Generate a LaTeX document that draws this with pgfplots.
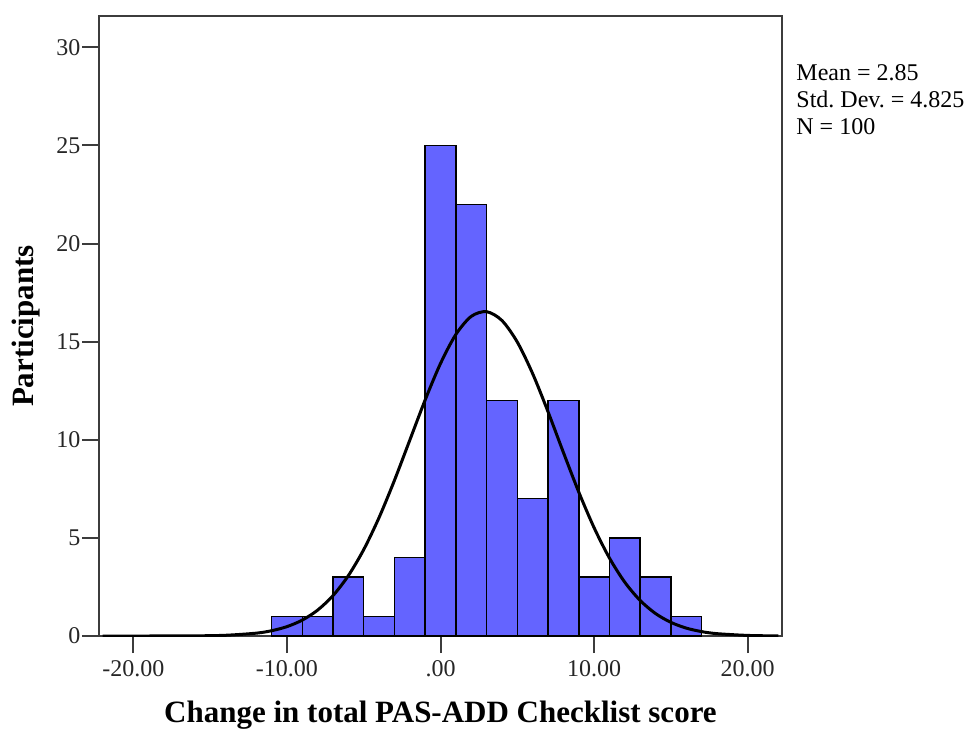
\documentclass[border=0pt]{standalone}
\usepackage{fontspec}
\setmainfont{Liberation Serif}
\usepackage{pgfplots}
\pgfplotsset{compat=1.18}
\definecolor{barblue}{RGB}{100,100,255}
\definecolor{frame}{RGB}{60,60,60}
\begin{document}
\frenchspacing
\begin{tikzpicture}
% fixed page: 977x730 px at 0.5pt per px, origin at axis south west
\useasboundingbox (-49.75pt,-47pt) rectangle (438.75pt,318pt);
\begin{axis}[
  scale only axis, width=341pt, height=310pt,
  xmin=-22.2, xmax=22.2, ymin=0, ymax=31.6,
  axis line style={frame, line width=1pt},
  tick style={frame, line width=1pt},
  major tick length=8.5pt, tick align=outside,
  xtick={-20,-10,0,10,20},
  xticklabels={-20.00,-10.00,.00,10.00,20.00},
  ytick={0,5,10,15,20,25,30},
  xtick pos=bottom, ytick pos=left,
  /pgf/number format/assume math mode=true,
  tick label style={font=\fontsize{12}{14}\selectfont, text=black!85},
  yticklabel style={xshift=2.5pt},
  xlabel={Change in total PAS-ADD Checklist score},
  ylabel={Participants},
  every axis x label/.style={at={(rel axis cs:0.5,0)}, yshift=-39.5pt, anchor=center,
    font=\fontsize{15.5}{18}\selectfont\bfseries},
  every axis y label/.style={at={(rel axis cs:0,0.5)}, xshift=-36.5pt, anchor=center, rotate=90,
    font=\fontsize{15.5}{18}\selectfont\bfseries},
]
\addplot[ybar interval, fill=barblue, draw=black, line width=0.75pt] coordinates {
 (-11,1) (-9,1) (-7,3) (-5,1) (-3,4) (-1,25) (1,22) (3,12) (5,7) (7,12)
 (9,3) (11,5) (13,3) (15,1) (17,1)
};
\addplot[smooth, black, line width=1.5pt] coordinates {
 (-22,0.000) (-20,0.0002) (-18,0.002) (-16,0.008) (-14,0.037) (-12,0.145) (-11,0.269)
 (-10,0.477) (-9,0.811) (-8,1.320) (-7,2.059) (-6,3.077) (-5,4.403) (-4,6.037)
 (-3,7.931) (-2,9.981) (-1,12.03) (0,13.89) (1,15.37) (2,16.29) (3,16.53)
 (4,16.08) (5,14.98) (6,13.37) (7,11.43) (8,9.357) (9,7.340) (10,5.517)
 (11,3.972) (12,2.739) (13,1.810) (14,1.145) (15,0.695) (16,0.403) (17,0.224)
 (18,0.120) (20,0.030) (22,0.004)
};
\end{axis}
\node[anchor=north west, align=left, inner sep=0pt, font=\fontsize{12}{13.5}\selectfont]
  at (348.25pt,286pt) {Mean = 2.85\\Std. Dev. = 4.825\\N = 100};
\end{tikzpicture}
\end{document}
